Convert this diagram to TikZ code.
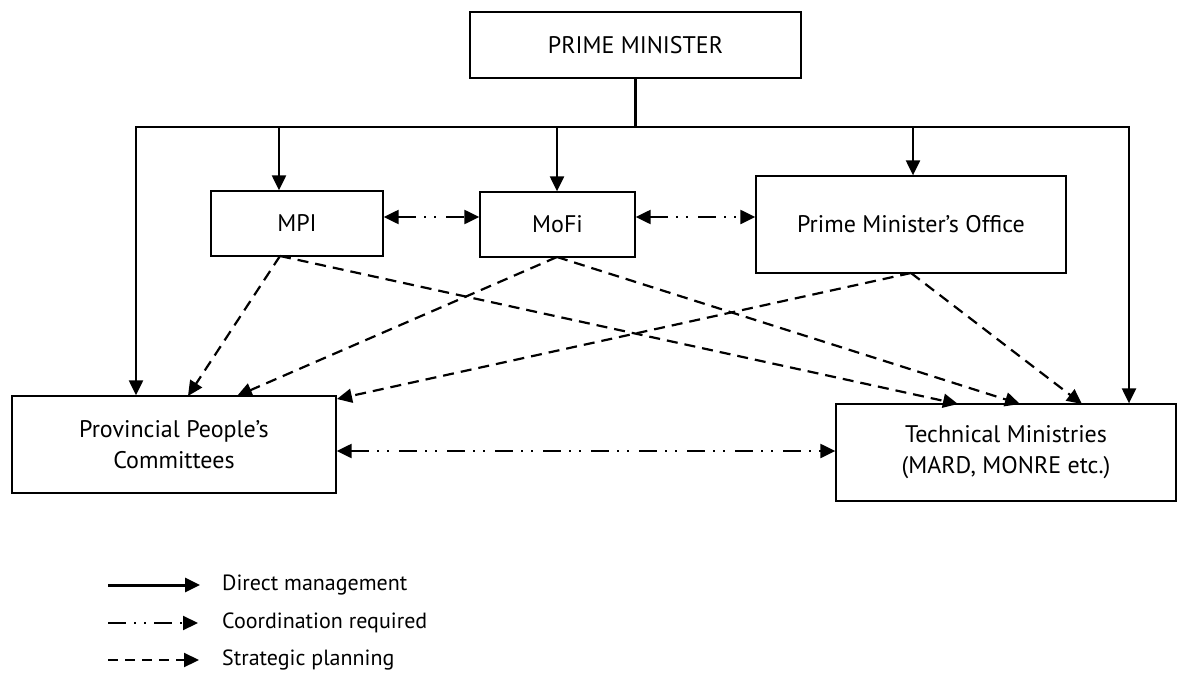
\documentclass[tikz,border=0pt]{standalone}
\usepackage{fontspec}
\setmainfont{PT Sans}
\usetikzlibrary{arrows.meta}
\tikzset{
  box/.style={draw=black, line width=1.3pt, fill=white, align=center, inner sep=0pt, font=\fontsize{24}{31}\selectfont},
  tip/.style={-{Triangle[length=15pt,width=14pt]}},
  direct/.style={line width=2.2pt, tip},
  plain/.style={line width=2.2pt},
  coordline/.style={line width=2.2pt, dash pattern=on 18pt off 8pt on 2pt off 8pt on 2pt off 10pt, {Triangle[length=15pt,width=14pt]}-{Triangle[length=15pt,width=14pt]}},
  strat/.style={line width=2.2pt, dash pattern=on 11pt off 7pt, tip},
  legtext/.style={anchor=west, inner sep=0pt, font=\fontsize{22}{26}\selectfont}
}
\begin{document}
\begin{tikzpicture}[x=1pt,y=-1pt]
\useasboundingbox[fill=white] (0,0) rectangle (1186,693);
% boxes
\node[box, minimum width=331pt, minimum height=66pt] (pm) at (635.5,45) {PRIME MINISTER};
\node[box, minimum width=172pt, minimum height=65pt] (mpi) at (297,223.5) {MPI};
\node[box, minimum width=155pt, minimum height=65pt] (mofi) at (557.5,224.5) {MoFi};
\node[box, minimum width=310pt, minimum height=97pt] (pmo) at (911,224.5) {Prime Minister’s Office};
\node[box, minimum width=324pt, minimum height=97pt] (prov) at (174,444.5) {Provincial People’s\\Committees};
\node[box, minimum width=340pt, minimum height=97pt] (tech) at (1006,452.5) {Technical Ministries\\(MARD, MONRE etc.)};
% bus
\coordinate (busL) at (136,127);
\coordinate (busR) at (1129,127);
\coordinate (bMPI) at (279,127);
\coordinate (bMoFi) at (557,127);
\coordinate (bPMO) at (913,127);
\draw[plain] (pm.south) -- (pm.south |- busL);
\draw[plain, line cap=rect] (busL) -- (busR);
\draw[direct] (busL) -- (busL |- prov.north);
\draw[direct] (bMPI) -- (bMPI |- mpi.north);
\draw[direct] (bMoFi) -- (bMoFi |- mofi.north);
\draw[direct] (bPMO) -- (bPMO |- pmo.north);
\draw[direct] (busR) -- (busR |- tech.north);
% coordination
\coordinate (cy1) at (0,217);
\coordinate (cy2) at (0,451);
\draw[coordline] (mpi.east |- cy1) -- (mofi.west |- cy1);
\draw[coordline] (mofi.east |- cy1) -- (pmo.west |- cy1);
\draw[coordline] (prov.east |- cy2) -- (tech.west |- cy2);
% strategic planning
\coordinate (mpiS) at (280,256);
\coordinate (mofiS) at (557,257);
\coordinate (pmoS) at (911,273);
\coordinate (pv1) at (188,396);
\coordinate (pv2) at (237,396);
\coordinate (pv3) at (337,399);
\coordinate (tm1) at (958,404);
\coordinate (tm2) at (1020,404);
\coordinate (tm3) at (1082,404);
\draw[strat] (mpiS) -- (pv1);
\draw[strat] (mpiS) -- (tm1);
\draw[strat] (mofiS) -- (pv2);
\draw[strat] (mofiS) -- (tm2);
\draw[strat] (pmoS) -- (pv3);
\draw[strat] (pmoS) -- (tm3);
% legend
\coordinate (l1a) at (108,585); \coordinate (l1b) at (200,585);
\coordinate (l2a) at (108,623); \coordinate (l2b) at (198,623);
\coordinate (l3a) at (108,660); \coordinate (l3b) at (199,660);
\draw[direct, line width=3pt] (l1a) -- (l1b);
\draw[line width=2.2pt, dash pattern=on 18pt off 8pt on 2pt off 8pt on 2pt off 8pt, tip] (l2a) -- (l2b);
\draw[line width=2.2pt, dash pattern=on 10pt off 7pt, tip] (l3a) -- (l3b);
\node[legtext] (t1) at (222,585) {Direct management};
\node[legtext] (t2) at (222,623) {Coordination required};
\node[legtext] (t3) at (222,660) {Strategic planning};
\end{tikzpicture}
\end{document}
